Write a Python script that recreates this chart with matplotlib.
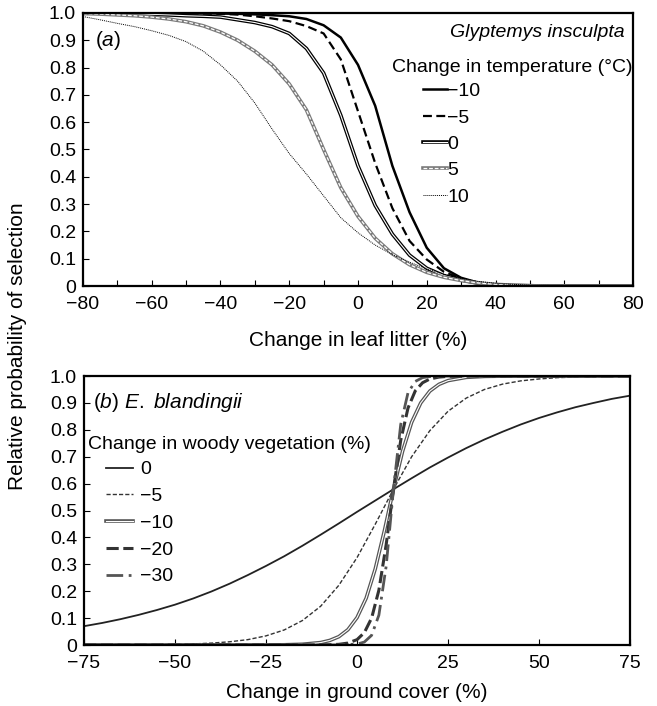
import numpy as np
import matplotlib
matplotlib.use("Agg")
import matplotlib.pyplot as plt

plt.rcParams['font.family'] = ['Liberation Sans', 'DejaVu Sans']
plt.rcParams['font.size'] = 14
plt.rcParams['mathtext.fontset'] = 'custom'
plt.rcParams['mathtext.rm'] = 'Liberation Sans'
plt.rcParams['mathtext.it'] = 'Liberation Sans:italic'

# ---------- panel (a): Glyptemys insculpta, leaf litter vs temperature ----------
litter = [-80, -75, -70, -65, -60, -55, -50, -45, -40, -35, -30, -25, -20, -15,
          -10, -5, 0, 5, 10, 15, 20, 25, 30, 35, 40, 45, 50, 55, 60, 65, 70, 75, 80]
temp_m10 = [1.0, 1.0, 1.0, 1.0, 1.0, 1.0, 1.0, 0.999, 0.998, 0.997, 0.995, 0.992, 0.988, 0.978,
            0.955, 0.91, 0.81, 0.66, 0.44, 0.27, 0.14, 0.065, 0.03, 0.012, 0.005, 0.002, 0.001,
            0.0, 0.0, 0.0, 0.0, 0.0, 0.0]
temp_m5 = [1.0, 1.0, 1.0, 1.0, 0.999, 0.999, 0.999, 0.998, 0.997, 0.994, 0.988, 0.98, 0.97, 0.952,
           0.925, 0.83, 0.64, 0.45, 0.285, 0.165, 0.097, 0.052, 0.027, 0.012, 0.005, 0.002, 0.001,
           0.0, 0.0, 0.0, 0.0, 0.0, 0.0]
temp_0 = [1.0, 0.999, 0.998, 0.997, 0.995, 0.993, 0.99, 0.988, 0.985, 0.975, 0.965, 0.95, 0.925, 0.87,
          0.78, 0.625, 0.44, 0.295, 0.19, 0.113, 0.065, 0.038, 0.022, 0.01, 0.004, 0.002, 0.001,
          0.0, 0.0, 0.0, 0.0, 0.0, 0.0]
temp_5 = [0.998, 0.996, 0.993, 0.99, 0.985, 0.978, 0.968, 0.953, 0.93, 0.9, 0.86, 0.81, 0.74, 0.645,
          0.5, 0.36, 0.255, 0.175, 0.118, 0.078, 0.05, 0.032, 0.02, 0.011, 0.006, 0.003, 0.001,
          0.0, 0.0, 0.0, 0.0, 0.0, 0.0]
temp_10 = [0.987, 0.975, 0.962, 0.95, 0.935, 0.918, 0.895, 0.86, 0.81, 0.75, 0.67, 0.575, 0.485, 0.41,
           0.33, 0.25, 0.195, 0.15, 0.115, 0.087, 0.063, 0.043, 0.028, 0.017, 0.01, 0.006, 0.003,
           0.002, 0.001, 0.0, 0.0, 0.0, 0.0]
temp_labels = ['\u221210', '\u22125', '0', '5', '10']

# ---------- panel (b): E. blandingii, ground cover vs woody vegetation ----------
gc_0 = [-75, -70, -65, -60, -55, -50, -45, -40, -35, -30, -25, -20, -15, -10, -5, 0,
        5, 10, 15, 20, 25, 30, 35, 40, 45, 50, 55, 60, 65, 70, 75]
wv_0 = [0.070, 0.082, 0.096, 0.112, 0.130, 0.150, 0.173, 0.199, 0.228, 0.260, 0.294, 0.330,
        0.369, 0.410, 0.452, 0.495, 0.537, 0.579, 0.620, 0.660, 0.697, 0.732, 0.764, 0.793,
        0.820, 0.844, 0.865, 0.884, 0.900, 0.915, 0.927]
gc_m5 = [-75, -65, -55, -45, -40, -35, -30, -25, -20, -15, -10, -5, 0, 5, 10, 15, 20,
         25, 30, 35, 40, 45, 50, 55, 60, 65, 70, 75]
wv_m5 = [0.0002, 0.0005, 0.0015, 0.004, 0.007, 0.012, 0.020, 0.034, 0.056, 0.091, 0.144,
         0.222, 0.325, 0.449, 0.579, 0.70, 0.797, 0.869, 0.918, 0.950, 0.970, 0.982, 0.989,
         0.994, 0.996, 0.998, 0.999, 0.999]
gc_m10 = [-75, -30, -25, -20, -15, -10, -7.5, -5, -2.5, 0, 2.5, 5, 7.5, 10, 12.5, 15, 17.5,
          20, 22.5, 25, 30, 35, 40, 75]
wv_m10 = [0.0, 0.0001, 0.0002, 0.0008, 0.0027, 0.009, 0.017, 0.031, 0.057, 0.102, 0.174,
          0.283, 0.424, 0.579, 0.72, 0.828, 0.90, 0.944, 0.969, 0.983, 0.995, 0.9986, 0.9996, 1.0]
gc_m20 = [-75, -10, -5, -2.5, 0, 2, 4, 6, 8, 10, 12, 14, 16, 18, 20, 22.5, 25, 30, 75]
wv_m20 = [0.0, 0.0003, 0.0025, 0.0072, 0.020, 0.046, 0.10, 0.204, 0.373, 0.579, 0.761, 0.881,
          0.945, 0.975, 0.989, 0.996, 0.9987, 0.9999, 1.0]
gc_m30 = [-75, -5, 0, 2, 4, 6, 8, 10, 12, 14, 16, 18, 20, 25, 75]
wv_m30 = [0.0, 0.0002, 0.0034, 0.011, 0.036, 0.111, 0.293, 0.579, 0.82, 0.938, 0.98, 0.994,
          0.998, 1.0, 1.0]
wood_labels = ['0', '\u22125', '\u221210', '\u221220', '\u221230']

yticks = [0, 0.1, 0.2, 0.3, 0.4, 0.5, 0.6, 0.7, 0.8, 0.9, 1.0]
ytick_labels = ['0', '0.1', '0.2', '0.3', '0.4', '0.5', '0.6', '0.7', '0.8', '0.9', '1.0']

fig = plt.figure(figsize=(6.57, 7.06), dpi=100)
ax1 = fig.add_axes([0.1263, 0.5949, 0.8372, 0.3867])
ax2 = fig.add_axes([0.1279, 0.0864, 0.8311, 0.3810])


def style_axes(ax):
    for s in ax.spines.values():
        s.set_linewidth(1.6)
    ax.tick_params(direction='in', length=4, width=0.8, which='both',
                   top=False, right=False, labelsize=14, pad=5)
    ax.tick_params(axis='x', which='both', pad=7)
    ax.set_ylim(0, 1.0)
    ax.set_yticks(yticks)
    ax.set_yticklabels(ytick_labels)


# panel a curves
l_m10, = ax1.plot(litter, temp_m10, color='black', lw=1.8)
l_m5, = ax1.plot(litter, temp_m5, color='black', lw=1.6, ls=(0, (4, 2)))
l_0a, = ax1.plot(litter, temp_0, color='black', lw=2.6)
l_0b, = ax1.plot(litter, temp_0, color='white', lw=0.8)
l_5a, = ax1.plot(litter, temp_5, color='#7a7a7a', lw=2.6)
l_5b, = ax1.plot(litter, temp_5, color='white', lw=0.9, ls=(0, (3, 1.5)))
l_10, = ax1.plot(litter, temp_10, color='black', lw=0.7, ls=(0, (1, 1)))

style_axes(ax1)
ax1.set_xlim(-80, 80)
ax1.set_xticks(np.arange(-80, 81, 20))
ax1.set_xticks(np.arange(-70, 80, 20), minor=True)
ax1.set_xlabel('Change in leaf litter (%)', fontsize=15, labelpad=13)
ax1.text(0.022, 0.90, r'($\it{a}$)', transform=ax1.transAxes, va='center', ha='left',
         fontsize=15)
ax1.text(0.985, 0.927, 'Glyptemys insculpta', transform=ax1.transAxes, va='center',
         ha='right', fontsize=14, style='italic')
ax1.text(0.562, 0.802, 'Change in temperature (\u00b0C)', transform=ax1.transAxes,
         va='center', ha='left', fontsize=14)
ax1.legend([l_m10, l_m5, (l_0a, l_0b), (l_5a, l_5b), l_10], temp_labels,
           loc='upper left', bbox_to_anchor=(0.618, 0.745), frameon=False,
           handlelength=1.25, handletextpad=0.0, labelspacing=0.45,
           borderpad=0, borderaxespad=0, fontsize=14)

# panel b curves
k_0, = ax2.plot(gc_0, wv_0, color='#222222', lw=1.3)
k_m5, = ax2.plot(gc_m5, wv_m5, color='#333333', lw=1.0, ls=(0, (3, 1.5)))
k_m10a, = ax2.plot(gc_m10, wv_m10, color='#555555', lw=2.6)
k_m10b, = ax2.plot(gc_m10, wv_m10, color='white', lw=0.8)
k_m20, = ax2.plot(gc_m20, wv_m20, color='#333333', lw=2.2, ls=(0, (4, 1.5)))
k_m30, = ax2.plot(gc_m30, wv_m30, color='#555555', lw=2.0, ls=(0, (6, 2, 1, 2)))

style_axes(ax2)
ax2.set_xlim(-75, 75)
ax2.set_xticks([-75, -50, -25, 0, 25, 50, 75])
ax2.set_xlabel('Change in ground cover (%)', fontsize=15, labelpad=8)
ax2.text(0.0165, 0.90, r'($\it{b}$) $\it{E.\ blandingii}$', transform=ax2.transAxes,
         va='center', ha='left', fontsize=15)
ax2.text(0.007, 0.747, 'Change in woody vegetation (%)', transform=ax2.transAxes,
         va='center', ha='left', fontsize=14)
ax2.legend([k_0, k_m5, (k_m10a, k_m10b), k_m20, k_m30], wood_labels,
           loc='upper left', bbox_to_anchor=(0.04, 0.685), frameon=False,
           handlelength=1.4, handletextpad=0.35, labelspacing=0.47,
           borderpad=0, borderaxespad=0, fontsize=14)

fig.text(0.027, 0.51, 'Relative probability of selection', rotation=90,
         va='center', ha='center', fontsize=15)

fig.savefig('out.png', dpi=100)
